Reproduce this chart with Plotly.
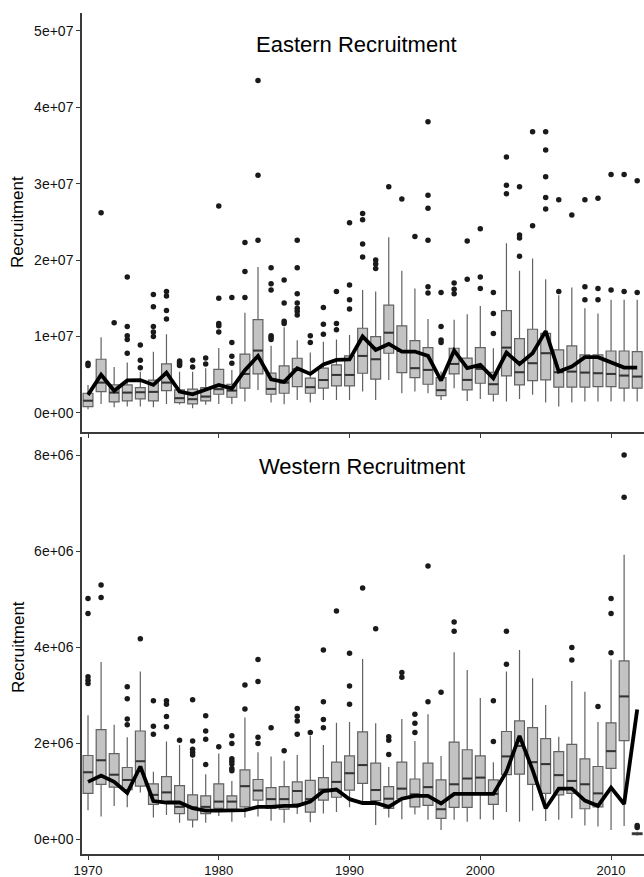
import plotly.graph_objects as go

# ---------------- data (values in millions) ----------------
years = list(range(1970, 2013))

east_q1 = [0.83, 2.79, 1.44, 1.57, 1.83, 1.57, 2.92, 1.35, 1.18, 1.57,
           2.44, 2.05, 3.23, 5.10, 2.44, 2.57, 3.45, 2.57, 3.23, 3.53,
           3.53, 5.19, 4.41, 7.81, 5.28, 4.62, 3.75, 2.27, 5.10, 3.01,
           3.88, 2.44, 4.84, 3.66, 4.23, 4.32, 3.36, 3.36, 3.36, 3.45,
           3.45, 3.23, 3.23]
east_med = [1.60, 3.97, 2.66, 2.66, 2.70, 2.75, 3.97, 1.92, 1.79, 2.14,
            3.10, 2.92, 5.10, 8.16, 3.14, 3.97, 5.70, 3.36, 4.30, 4.97,
            4.97, 7.46, 7.02, 10.5, 8.10, 5.85, 5.63, 2.97, 6.41, 4.32,
            5.76, 3.75, 8.55, 5.32, 6.50, 7.81, 5.32, 5.41, 5.28, 5.19,
            5.10, 4.89, 4.76]
east_q3 = [2.57, 7.02, 3.66, 3.66, 3.30, 4.30, 6.41, 3.00, 3.10, 3.30,
           5.70, 3.75, 7.70, 12.2, 5.20, 6.15, 7.15, 4.54, 5.85, 6.28,
           7.46, 11.08, 9.99, 14.1, 11.4, 9.47, 8.55, 4.62, 8.46, 7.16,
           8.55, 5.32, 13.4, 9.73, 10.95, 10.4, 8.25, 8.77, 7.59, 7.59,
           8.10, 8.10, 8.03]
east_lo = [0.48, 1.18, 0.74, 0.83, 0.83, 0.74, 1.18, 1.09, 0.61, 1.05,
           1.18, 1.18, 1.48, 3.00, 1.35, 1.13, 1.70, 1.35, 1.70, 1.70,
           1.70, 2.79, 1.70, 4.32, 2.57, 2.79, 2.57, 1.70, 3.23, 1.57,
           1.83, 1.48, 1.48, 1.83, 2.36, 1.35, 0.83, 1.35, 1.48, 1.48,
           1.48, 1.48, 1.48]
east_hi = [3.66, 9.90, 6.00, 6.60, 5.40, 8.00, 10.3, 5.40, 5.40, 5.85,
           8.50, 5.60, 13.1, 19.1, 8.80, 11.2, 9.50, 7.90, 9.30, 9.60,
           10.2, 16.1, 15.9, 23.0, 18.6, 16.3, 12.3, 5.41, 12.2, 12.9,
           14.0, 8.46, 22.2, 18.6, 20.2, 17.5, 15.4, 16.4, 13.7, 13.0,
           14.8, 14.8, 14.8]
east_line = [2.36, 5.00, 2.90, 4.25, 4.30, 3.66, 5.28, 2.80, 2.44, 3.00,
             3.66, 3.20, 5.60, 7.46, 4.40, 4.06, 5.85, 5.10, 6.35, 6.94,
             7.00, 10.0, 8.25, 9.03, 8.03, 8.03, 7.46, 4.23, 8.16, 5.85,
             6.28, 4.54, 7.90, 6.41, 7.81, 10.7, 5.41, 6.06, 7.29, 7.29,
             6.59, 5.93, 5.93]
east_out_year = [1970, 1970, 1971, 1972,
                 1973, 1973, 1973, 1973, 1973,
                 1974, 1974, 1974,
                 1975, 1975, 1975, 1975, 1975,
                 1976, 1976, 1976, 1976,
                 1977, 1977, 1977, 1977,
                 1978, 1978, 1979, 1979,
                 1980, 1980, 1980, 1980, 1980,
                 1981, 1981, 1981, 1981,
                 1982, 1982, 1982,
                 1983, 1983, 1983,
                 1984, 1984, 1984, 1984, 1984, 1984,
                 1985, 1985, 1985, 1985,
                 1986, 1986, 1986, 1986, 1986, 1986, 1986,
                 1987, 1987,
                 1988, 1988, 1988,
                 1989, 1989, 1989,
                 1990, 1990, 1990, 1990,
                 1991, 1991, 1991, 1991,
                 1992, 1992, 1992,
                 1993, 1994, 1995,
                 1996, 1996, 1996, 1996, 1996, 1996,
                 1997, 1997, 1997, 1997,
                 1998, 1998, 1998,
                 1999, 1999,
                 2000, 2000, 2000,
                 2001, 2001, 2001,
                 2002, 2002, 2002,
                 2003, 2003, 2003, 2003,
                 2004, 2004,
                 2005, 2005, 2005, 2005, 2005,
                 2006, 2006, 2007,
                 2008, 2008, 2008,
                 2009, 2009, 2009,
                 2010, 2010, 2011, 2011, 2012, 2012]
east_out_val = [6.5, 6.2, 26.2, 11.8,
                17.8, 11.3, 10.1, 9.6, 7.8,
                8.9, 6.9, 5.9,
                15.5, 13.9, 11.3, 10.6, 10.0,
                15.9, 15.3, 13.4, 12.3,
                6.8, 6.6, 6.4, 6.2,
                6.9, 6.0, 7.2, 6.4,
                27.1, 15.0, 11.7, 11.4, 10.6,
                15.1, 9.2, 7.4, 6.5,
                22.3, 18.5, 15.1,
                43.5, 31.1, 22.6,
                19.0, 16.9, 16.1, 10.1, 9.9, 9.6,
                17.4, 14.4, 12.0, 11.7,
                22.6, 19.0, 15.6, 14.4, 13.7, 13.3, 12.8,
                10.1, 9.2,
                13.8, 11.6, 10.3,
                15.9, 11.7, 10.9,
                24.9, 16.75, 14.8, 13.6,
                26.1, 25.3, 22.1, 20.4,
                20.0, 19.5, 18.9,
                29.6, 28.0, 23.1,
                38.1, 28.5, 26.8, 22.6, 16.5, 15.7,
                15.75, 11.3, 9.55, 9.2,
                17.0, 16.2, 15.6,
                22.5, 17.5,
                24.1, 17.8, 16.3,
                15.75, 13.0, 10.4,
                33.5, 29.8, 28.7,
                29.6, 23.3, 22.9, 20.5,
                36.8, 24.5,
                36.8, 34.4, 30.9, 28.2, 26.7,
                27.9, 15.9, 25.9,
                27.9, 16.5, 14.8,
                28.1, 16.3, 14.8,
                31.2, 16.1, 31.2, 15.9, 30.4, 15.75]

west_q1 = [0.95, 1.14, 1.08, 1.03, 1.10, 0.72, 0.78, 0.53, 0.40, 0.53,
           0.64, 0.60, 0.67, 0.81, 0.64, 0.62, 0.73, 0.56, 0.81, 0.87,
           1.02, 1.16, 0.80, 0.64, 0.84, 0.67, 0.70, 0.43, 0.66, 0.66,
           0.94, 0.72, 1.34, 1.35, 1.14, 0.95, 0.92, 0.95, 0.63, 0.67,
           1.47, 2.05, 0.09]
west_med = [1.39, 1.64, 1.34, 1.23, 1.62, 0.92, 0.97, 0.67, 0.66, 0.67,
            0.78, 0.78, 1.10, 1.01, 0.83, 0.83, 1.00, 0.83, 1.03, 1.19,
            1.37, 1.54, 1.02, 0.84, 1.05, 0.93, 1.08, 0.62, 1.14, 1.26,
            1.28, 0.94, 1.72, 1.94, 1.60, 1.56, 1.33, 1.21, 1.14, 0.95,
            1.83, 2.97, 0.11]
west_q3 = [1.74, 2.28, 1.78, 1.49, 2.25, 1.15, 1.30, 1.11, 0.92, 0.90,
           1.15, 0.90, 1.44, 1.24, 1.07, 1.09, 1.19, 1.22, 1.28, 1.60,
           1.73, 2.23, 1.58, 1.09, 1.60, 1.25, 1.58, 1.23, 2.02, 1.86,
           1.73, 1.23, 2.24, 2.46, 2.32, 2.09, 1.82, 1.97, 1.67, 1.51,
           2.42, 3.71, 0.13]
west_lo = [0.60, 0.47, 0.69, 0.66, 0.97, 0.45, 0.50, 0.34, 0.24, 0.34,
           0.48, 0.36, 0.45, 0.47, 0.38, 0.34, 0.52, 0.35, 0.53, 0.56,
           0.66, 0.74, 0.29, 0.45, 0.41, 0.51, 0.40, 0.19, 0.40, 0.36,
           0.41, 0.40, 0.56, 0.36, 0.59, 0.375, 0.40, 0.43, 0.28, 0.26,
           0.19, 0.27, 0.07]
west_hi = [2.58, 3.69, 2.38, 2.12, 3.49, 1.40, 2.03, 1.96, 1.67, 1.35,
           1.78, 1.21, 2.53, 1.81, 1.72, 1.63, 1.75, 2.15, 1.96, 2.42,
           2.44, 3.75, 2.41, 1.50, 2.50, 2.04, 2.60, 1.73, 3.89, 3.52,
           2.94, 1.60, 3.49, 3.94, 3.35, 2.79, 2.13, 3.29, 3.07, 2.44,
           3.74, 5.92, 0.15]
west_line = [1.19, 1.32, 1.19, 0.96, 1.51, 0.79, 0.76, 0.76, 0.64, 0.59,
             0.59, 0.59, 0.60, 0.67, 0.67, 0.69, 0.69, 0.78, 1.00, 1.03,
             0.83, 0.75, 0.75, 0.67, 0.84, 0.90, 0.90, 0.74, 0.94, 0.94,
             0.94, 0.94, 1.40, 2.15, 1.44, 0.64, 1.05, 1.05, 0.80, 0.69,
             1.07, 0.73, 2.70]
west_out_year = [1970, 1970, 1970, 1970, 1970,
                 1971, 1971,
                 1973, 1973, 1973, 1973,
                 1974,
                 1975, 1975, 1975,
                 1976, 1976, 1976, 1976,
                 1977,
                 1978, 1978, 1978, 1978, 1978,
                 1979, 1979, 1979, 1979,
                 1980,
                 1981, 1981, 1981, 1981, 1981, 1981, 1981,
                 1982, 1982,
                 1983, 1983, 1983, 1983,
                 1984, 1985,
                 1986, 1986, 1986, 1986,
                 1987,
                 1988, 1988, 1988, 1988,
                 1989,
                 1990, 1990, 1990,
                 1991, 1992,
                 1993, 1993, 1993,
                 1994, 1994,
                 1995, 1995, 1995,
                 1996, 1996, 1997,
                 1998, 1998,
                 2001, 2001,
                 2002, 2002,
                 2007, 2007,
                 2009,
                 2010, 2010, 2010,
                 2011, 2011,
                 2012, 2012]
west_out_val = [5.01, 4.70, 3.38, 3.31, 3.24,
                5.29, 5.03,
                3.17, 2.92, 2.50, 2.38,
                4.17,
                2.88, 2.35, 2.18,
                2.88, 2.81, 2.55, 2.34,
                2.06,
                2.90, 2.04, 1.87, 1.81, 1.75,
                2.57, 2.25, 2.08, 1.55,
                1.92,
                2.15, 1.99, 1.67, 1.62, 1.56, 1.47, 1.42,
                3.21, 2.71,
                3.74, 3.28, 2.12, 1.99,
                2.32, 1.84,
                2.72, 2.56, 2.46, 2.18,
                2.22,
                3.94, 2.86, 2.49, 2.32,
                4.75,
                3.87, 3.19, 2.81,
                5.23, 4.38,
                2.13, 2.06, 1.76,
                3.47, 3.37,
                2.60, 2.41, 2.22,
                5.69, 2.86, 3.06,
                4.52, 4.33,
                2.88, 2.03,
                4.33, 3.64,
                3.99, 3.73,
                2.76,
                5.01, 4.70, 3.88,
                8.00, 7.12,
                0.24, 0.28]

east_ticks = [0, 1e7, 2e7, 3e7, 4e7, 5e7]
east_ticktext = ["0e+00", "1e+07", "2e+07", "3e+07", "4e+07", "5e+07"]
west_ticks = [0, 2e6, 4e6, 6e6, 8e6]
west_ticktext = ["0e+00", "2e+06", "4e+06", "6e+06", "8e+06"]
x_ticks = [1970, 1980, 1990, 2000, 2010]

UNIT = 1e6
FONT = "Liberation Sans, Arial, sans-serif"
BOX_HALF = 0.375

fig = go.Figure()


def sc(vals):
    return [v * UNIT for v in vals]


def add_panel(q1, med, q3, lo, hi, line, oy, ov, xa, ya):
    fig.add_trace(go.Box(
        x=years, q1=sc(q1), median=sc(med), q3=sc(q3),
        lowerfence=sc(lo), upperfence=sc(hi),
        xaxis=xa, yaxis=ya, width=0.75, whiskerwidth=0,
        fillcolor="#c3c3c3", line=dict(color="#626262", width=1.2),
        boxpoints=False, hoverinfo="skip"))
    mx, my = [], []
    for yr, m in zip(years, med):
        mx += [yr - BOX_HALF, yr + BOX_HALF, None]
        my += [m * UNIT, m * UNIT, None]
    fig.add_trace(go.Scatter(x=mx, y=my, mode="lines", xaxis=xa, yaxis=ya,
                             line=dict(color="#333333", width=2),
                             hoverinfo="skip"))
    fig.add_trace(go.Scatter(x=oy, y=sc(ov), mode="markers", xaxis=xa, yaxis=ya,
                             marker=dict(size=5.5, color="#1a1a1a"),
                             hoverinfo="skip"))
    fig.add_trace(go.Scatter(x=years, y=sc(line), mode="lines", xaxis=xa, yaxis=ya,
                             line=dict(color="black", width=3.8),
                             hoverinfo="skip"))


add_panel(east_q1, east_med, east_q3, east_lo, east_hi, east_line,
          east_out_year, east_out_val, "x", "y")
add_panel(west_q1, west_med, west_q3, west_lo, west_hi, west_line,
          west_out_year, west_out_val, "x2", "y2")

axis_common = dict(showline=True, linecolor="#3a3a3a", linewidth=1.5,
                   ticks="outside", ticklen=4, tickcolor="#3a3a3a",
                   tickwidth=1, showgrid=False, zeroline=False,
                   automargin=False,
                   tickfont=dict(family=FONT, size=14, color="#111111"))

xrange = [1969.54, 2012.52]

fig.update_layout(
    template="none",
    width=644, height=877,
    margin=dict(l=82, r=0, t=13, b=23),
    showlegend=False,
    plot_bgcolor="white", paper_bgcolor="white",
    xaxis=dict(domain=[0, 1], anchor="y", range=xrange, tickvals=x_ticks,
               showticklabels=False, **axis_common),
    yaxis=dict(domain=[0.5018, 1], anchor="x", range=[-2.5e6, 5.235e7],
               tickvals=east_ticks, ticktext=east_ticktext, **axis_common),
    xaxis2=dict(domain=[0, 1], anchor="y2", range=xrange, tickvals=x_ticks,
                **axis_common),
    yaxis2=dict(domain=[0, 0.4958], anchor="x2", range=[-0.3125e6, 8.375e6],
                tickvals=west_ticks, ticktext=west_ticktext, **axis_common),
)
fig.update_xaxes(tickfont=dict(family=FONT, size=13, color="#111111"))

annots = [
    dict(text="Eastern Recruitment", x=0.489, y=0.963, size=22, angle=0),
    dict(text="Western Recruitment", x=0.498, y=0.461, size=22, angle=0),
    dict(text="Recruitment", x=-0.114, y=0.7515, size=17, angle=-90),
    dict(text="Recruitment", x=-0.114, y=0.246, size=17, angle=-90),
]
for a in annots:
    fig.add_annotation(text=a["text"], x=a["x"], y=a["y"], xref="paper",
                       yref="paper", showarrow=False, xanchor="center",
                       yanchor="middle", textangle=a["angle"],
                       font=dict(family=FONT, size=a["size"], color="black"))

fig.write_html(
    "out.html",
    config={"displayModeBar": False},
    post_script="document.body.style.margin='0px';"
                "document.body.style.overflow='hidden';",
)
